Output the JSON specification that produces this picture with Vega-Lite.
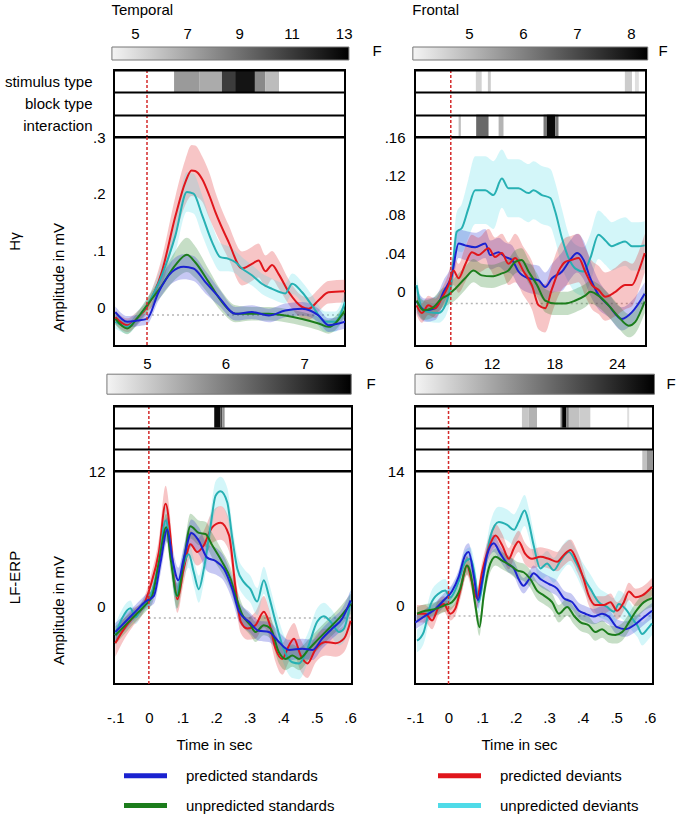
{
"$schema": "https://vega.github.io/schema/vega-lite/v6.json",
"padding": {"left": 3, "top": 3, "right": 0, "bottom": 0},
"background": "white",
"columns": 2,
"bounds": "flush",
"spacing": {"row": 0, "column": 63},
"resolve": {"scale": {"color": "independent"}, "legend": {"color": "independent"}},
"config": {
  "font": "Liberation Sans",
  "view": {"stroke": "black", "strokeWidth": 2},
  "axis": {"labelFontSize": 15, "titleFontSize": 15, "titleFontWeight": "normal", "labelColor": "black", "titleColor": "black", "domain": false, "ticks": false, "grid": false},
  "title": {"fontSize": 15, "fontWeight": "normal", "color": "black"},
  "legend": {"orient": "bottom", "columns": 2, "symbolType": "M-1,-0.12H1V0.12H-1Z", "symbolSize": 1849, "labelFontSize": 15, "labelColor": "black", "labelOffset": 19, "columnPadding": 103, "rowPadding": -13, "offset": -9, "padding": 10, "symbolOpacity": 1, "symbolStrokeWidth": 0}
},
"concat": [
{
  "width": 231, "height": 23,
  "view": {"stroke": null},
  "title": {"text": "Temporal", "anchor": "start", "offset": 8},
  "data": {"values": [{"lo": 4.12, "hi": 13.2, "bar": "F"}]},
  "mark": {"type": "rect", "fill": {"gradient": "linear", "x1": 0, "y1": 0, "x2": 1, "y2": 0, "stops": [{"offset": 0, "color": "#f4f4f4"}, {"offset": 1, "color": "#000000"}]}, "stroke": "#777777", "strokeWidth": 1},
  "encoding": {
    "x": {"field": "lo", "type": "quantitative", "scale": {"domain": [4.2, 13.05], "nice": false, "zero": false}, "axis": {"orient": "top", "title": null, "values": [5, 7, 9, 11, 13], "labelPadding": 6, "labelFlush": false}},
    "x2": {"field": "hi"},
    "y": {"field": "bar", "type": "nominal", "scale": {"paddingInner": 0, "paddingOuter": 0.3846, "align": 0}, "axis": {"orient": "right", "labels": false, "title": "F", "titleAngle": 0, "titleAlign": "left", "titlePadding": 27, "titleBaseline": "bottom"}}
  }
},
{
  "width": 231, "height": 23,
  "view": {"stroke": null},
  "title": {"text": "Frontal", "anchor": "start", "offset": 8},
  "data": {"values": [{"lo": 3.96, "hi": 8.31, "bar": "F"}]},
  "mark": {"type": "rect", "fill": {"gradient": "linear", "x1": 0, "y1": 0, "x2": 1, "y2": 0, "stops": [{"offset": 0, "color": "#f4f4f4"}, {"offset": 1, "color": "#000000"}]}, "stroke": "#777777", "strokeWidth": 1},
  "encoding": {
    "x": {"field": "lo", "type": "quantitative", "scale": {"domain": [4.0, 8.278], "nice": false, "zero": false}, "axis": {"orient": "top", "title": null, "values": [5, 6, 7, 8], "labelPadding": 6, "labelFlush": false}},
    "x2": {"field": "hi"},
    "y": {"field": "bar", "type": "nominal", "scale": {"paddingInner": 0, "paddingOuter": 0.3846, "align": 0}, "axis": {"orient": "right", "labels": false, "title": "F", "titleAngle": 0, "titleAlign": "left", "titlePadding": 12, "titleBaseline": "bottom"}}
  }
},
{
  "width": 231, "height": 67,
  "layer": [
    {"data": {"values": [
      {"r": "stimulus type", "t0": 0.082, "t1": 0.158, "f": 7.2},
      {"r": "stimulus type", "t0": 0.158, "t1": 0.227, "f": 6.6},
      {"r": "stimulus type", "t0": 0.227, "t1": 0.267, "f": 10.8},
      {"r": "stimulus type", "t0": 0.267, "t1": 0.327, "f": 12.6},
      {"r": "stimulus type", "t0": 0.327, "t1": 0.358, "f": 7.8},
      {"r": "stimulus type", "t0": 0.358, "t1": 0.4, "f": 6.0}
    ]},
     "mark": {"type": "rect"},
     "encoding": {
       "x": {"field": "t0", "type": "quantitative", "scale": {"domain": [-0.1, 0.6], "nice": false, "zero": false}, "axis": null},
       "x2": {"field": "t1"},
       "y": {"field": "r", "type": "nominal", "scale": {"domain": ["stimulus type", "block type", "interaction"], "paddingInner": 0, "paddingOuter": 0}, "axis": {"title": null, "labelPadding": 22, "grid": true, "tickBand": "extent", "gridColor": "black", "gridWidth": 2, "gridOpacity": 1, "zindex": 1}},
       "color": {"field": "f", "type": "quantitative", "scale": {"domain": [4.12, 13.2], "range": ["#f4f4f4", "#000000"]}, "legend": null}
     }},
    {"data": {"values": [{"t": 0}]}, "mark": {"type": "rule", "color": "#d42a2a", "strokeDash": [3, 2], "strokeWidth": 1.5}, "encoding": {"x": {"field": "t", "type": "quantitative"}}}
  ]
},
{
  "width": 231, "height": 67,
  "layer": [
    {"data": {"values": [
      {"r": "stimulus type", "t0": 0.077, "t1": 0.095, "f": 4.5},
      {"r": "stimulus type", "t0": 0.114, "t1": 0.123, "f": 4.6},
      {"r": "stimulus type", "t0": 0.535, "t1": 0.557, "f": 4.6},
      {"r": "stimulus type", "t0": 0.566, "t1": 0.578, "f": 4.3},
      {"r": "interaction", "t0": 0.024, "t1": 0.031, "f": 4.8},
      {"r": "interaction", "t0": 0.078, "t1": 0.116, "f": 6.3},
      {"r": "interaction", "t0": 0.147, "t1": 0.162, "f": 5.0},
      {"r": "interaction", "t0": 0.285, "t1": 0.295, "f": 6.0},
      {"r": "interaction", "t0": 0.295, "t1": 0.321, "f": 8.2},
      {"r": "interaction", "t0": 0.321, "t1": 0.331, "f": 6.0}
    ]},
     "mark": {"type": "rect"},
     "encoding": {
       "x": {"field": "t0", "type": "quantitative", "scale": {"domain": [-0.11, 0.6], "nice": false, "zero": false}, "axis": null},
       "x2": {"field": "t1"},
       "y": {"field": "r", "type": "nominal", "scale": {"domain": ["stimulus type", "block type", "interaction"], "paddingInner": 0, "paddingOuter": 0}, "axis": {"title": null, "labels": false, "grid": true, "tickBand": "extent", "gridColor": "black", "gridWidth": 2, "gridOpacity": 1, "zindex": 1}},
       "color": {"field": "f", "type": "quantitative", "scale": {"domain": [3.96, 8.31], "range": ["#f4f4f4", "#000000"]}, "legend": null}
     }},
    {"data": {"values": [{"t": 0}]}, "mark": {"type": "rule", "color": "#d42a2a", "strokeDash": [3, 2], "strokeWidth": 1.5}, "encoding": {"x": {"field": "t", "type": "quantitative"}}}
  ]
},
{
  "width": 231, "height": 209,
  "title": {"text": "Hγ", "orient": "left", "offset": 28},
  "data": {"values": [
    {"c":"predicted deviants","t":-0.096,"m":-0.018,"l":-0.03,"h":-0.006},
    {"c":"predicted deviants","t":-0.06,"m":-0.032,"l":-0.044,"h":-0.02},
    {"c":"predicted deviants","t":-0.03,"m":-0.02,"l":-0.032,"h":-0.008},
    {"c":"predicted deviants","t":0,"m":0,"l":-0.012,"h":0.012},
    {"c":"predicted deviants","t":0.045,"m":0.062,"l":0.037,"h":0.087},
    {"c":"predicted deviants","t":0.086,"m":0.16,"l":0.125,"h":0.195},
    {"c":"predicted deviants","t":0.116,"m":0.22,"l":0.18,"h":0.26},
    {"c":"predicted deviants","t":0.135,"m":0.241,"l":0.196,"h":0.286},
    {"c":"predicted deviants","t":0.146,"m":0.24,"l":0.195,"h":0.285},
    {"c":"predicted deviants","t":0.167,"m":0.226,"l":0.186,"h":0.266},
    {"c":"predicted deviants","t":0.19,"m":0.195,"l":0.155,"h":0.235},
    {"c":"predicted deviants","t":0.207,"m":0.168,"l":0.133,"h":0.203},
    {"c":"predicted deviants","t":0.247,"m":0.115,"l":0.085,"h":0.145},
    {"c":"predicted deviants","t":0.288,"m":0.068,"l":0.038,"h":0.098},
    {"c":"predicted deviants","t":0.318,"m":0.076,"l":0.046,"h":0.106},
    {"c":"predicted deviants","t":0.338,"m":0.082,"l":0.052,"h":0.112},
    {"c":"predicted deviants","t":0.359,"m":0.063,"l":0.035,"h":0.091},
    {"c":"predicted deviants","t":0.379,"m":0.074,"l":0.049,"h":0.099},
    {"c":"predicted deviants","t":0.399,"m":0.058,"l":0.033,"h":0.083},
    {"c":"predicted deviants","t":0.43,"m":0.026,"l":0.004,"h":0.048},
    {"c":"predicted deviants","t":0.47,"m":0,"l":-0.02,"h":0.02},
    {"c":"predicted deviants","t":0.49,"m":-0.003,"l":-0.023,"h":0.017},
    {"c":"predicted deviants","t":0.52,"m":0.012,"l":-0.008,"h":0.032},
    {"c":"predicted deviants","t":0.55,"m":0.026,"l":0.006,"h":0.046},
    {"c":"predicted deviants","t":0.6,"m":0.028,"l":0.008,"h":0.048},
    {"c":"unpredicted deviants","t":-0.096,"m":-0.026,"l":-0.038,"h":-0.014},
    {"c":"unpredicted deviants","t":-0.06,"m":-0.035,"l":-0.047,"h":-0.023},
    {"c":"unpredicted deviants","t":-0.03,"m":-0.02,"l":-0.032,"h":-0.008},
    {"c":"unpredicted deviants","t":0,"m":0.003,"l":-0.009,"h":0.015},
    {"c":"unpredicted deviants","t":0.045,"m":0.056,"l":0.036,"h":0.076},
    {"c":"unpredicted deviants","t":0.086,"m":0.126,"l":0.096,"h":0.156},
    {"c":"unpredicted deviants","t":0.121,"m":0.203,"l":0.168,"h":0.238},
    {"c":"unpredicted deviants","t":0.141,"m":0.2,"l":0.165,"h":0.235},
    {"c":"unpredicted deviants","t":0.167,"m":0.162,"l":0.127,"h":0.197},
    {"c":"unpredicted deviants","t":0.197,"m":0.115,"l":0.085,"h":0.145},
    {"c":"unpredicted deviants","t":0.222,"m":0.088,"l":0.063,"h":0.113},
    {"c":"unpredicted deviants","t":0.247,"m":0.085,"l":0.063,"h":0.107},
    {"c":"unpredicted deviants","t":0.268,"m":0.079,"l":0.059,"h":0.099},
    {"c":"unpredicted deviants","t":0.288,"m":0.068,"l":0.048,"h":0.088},
    {"c":"unpredicted deviants","t":0.318,"m":0.056,"l":0.038,"h":0.074},
    {"c":"unpredicted deviants","t":0.348,"m":0.041,"l":0.023,"h":0.059},
    {"c":"unpredicted deviants","t":0.379,"m":0.032,"l":0.014,"h":0.05},
    {"c":"unpredicted deviants","t":0.419,"m":0.024,"l":0.006,"h":0.042},
    {"c":"unpredicted deviants","t":0.44,"m":0.041,"l":0.023,"h":0.059},
    {"c":"unpredicted deviants","t":0.47,"m":0.026,"l":0.008,"h":0.044},
    {"c":"unpredicted deviants","t":0.5,"m":0.003,"l":-0.015,"h":0.021},
    {"c":"unpredicted deviants","t":0.54,"m":-0.026,"l":-0.044,"h":-0.008},
    {"c":"unpredicted deviants","t":0.57,"m":-0.026,"l":-0.044,"h":-0.008},
    {"c":"unpredicted deviants","t":0.6,"m":0.009,"l":-0.009,"h":0.027},
    {"c":"unpredicted standards","t":-0.096,"m":-0.021,"l":-0.031,"h":-0.011},
    {"c":"unpredicted standards","t":-0.06,"m":-0.038,"l":-0.048,"h":-0.028},
    {"c":"unpredicted standards","t":-0.03,"m":-0.02,"l":-0.03,"h":-0.01},
    {"c":"unpredicted standards","t":0,"m":0.003,"l":-0.009,"h":0.015},
    {"c":"unpredicted standards","t":0.045,"m":0.038,"l":0.02,"h":0.056},
    {"c":"unpredicted standards","t":0.086,"m":0.074,"l":0.049,"h":0.099},
    {"c":"unpredicted standards","t":0.121,"m":0.092,"l":0.062,"h":0.122},
    {"c":"unpredicted standards","t":0.146,"m":0.079,"l":0.051,"h":0.107},
    {"c":"unpredicted standards","t":0.187,"m":0.044,"l":0.022,"h":0.066},
    {"c":"unpredicted standards","t":0.227,"m":0.009,"l":-0.009,"h":0.027},
    {"c":"unpredicted standards","t":0.268,"m":-0.012,"l":-0.027,"h":0.003},
    {"c":"unpredicted standards","t":0.318,"m":-0.012,"l":-0.024,"h":0},
    {"c":"unpredicted standards","t":0.369,"m":-0.012,"l":-0.024,"h":0},
    {"c":"unpredicted standards","t":0.419,"m":-0.015,"l":-0.027,"h":-0.003},
    {"c":"unpredicted standards","t":0.47,"m":-0.021,"l":-0.033,"h":-0.009},
    {"c":"unpredicted standards","t":0.52,"m":-0.029,"l":-0.041,"h":-0.017},
    {"c":"unpredicted standards","t":0.55,"m":-0.035,"l":-0.047,"h":-0.023},
    {"c":"unpredicted standards","t":0.6,"m":-0.006,"l":-0.018,"h":0.006},
    {"c":"predicted standards","t":-0.096,"m":-0.009,"l":-0.019,"h":0.001},
    {"c":"predicted standards","t":-0.06,"m":-0.026,"l":-0.036,"h":-0.016},
    {"c":"predicted standards","t":-0.03,"m":-0.024,"l":-0.034,"h":-0.014},
    {"c":"predicted standards","t":0,"m":-0.021,"l":-0.031,"h":-0.011},
    {"c":"predicted standards","t":0.035,"m":0.026,"l":0.011,"h":0.041},
    {"c":"predicted standards","t":0.076,"m":0.062,"l":0.042,"h":0.082},
    {"c":"predicted standards","t":0.111,"m":0.071,"l":0.049,"h":0.093},
    {"c":"predicted standards","t":0.141,"m":0.068,"l":0.046,"h":0.09},
    {"c":"predicted standards","t":0.177,"m":0.044,"l":0.024,"h":0.064},
    {"c":"predicted standards","t":0.217,"m":0.018,"l":0.003,"h":0.033},
    {"c":"predicted standards","t":0.268,"m":-0.012,"l":-0.024,"h":0},
    {"c":"predicted standards","t":0.318,"m":-0.009,"l":-0.021,"h":0.003},
    {"c":"predicted standards","t":0.369,"m":-0.015,"l":-0.027,"h":-0.003},
    {"c":"predicted standards","t":0.419,"m":-0.006,"l":-0.018,"h":0.006},
    {"c":"predicted standards","t":0.47,"m":-0.003,"l":-0.015,"h":0.009},
    {"c":"predicted standards","t":0.52,"m":-0.015,"l":-0.027,"h":-0.003},
    {"c":"predicted standards","t":0.55,"m":-0.032,"l":-0.044,"h":-0.02},
    {"c":"predicted standards","t":0.6,"m":-0.026,"l":-0.038,"h":-0.014}
  ]},
  "encoding": {"x": {"field": "t", "type": "quantitative", "scale": {"domain": [-0.1, 0.6], "nice": false, "zero": false}, "axis": null}},
  "layer": [
    {"data": {"values": [{"t": 0, "t2": 0.6, "b": -0.014}]}, "mark": {"type": "rule", "color": "#b5b5b5", "strokeDash": [2, 3], "strokeWidth": 1.5},
     "encoding": {"x2": {"field": "t2"}, "y": {"field": "b", "type": "quantitative", "scale": {"domain": [-0.0688, 0.3], "nice": false, "zero": false}, "axis": {"title": "Amplitude in mV", "values": [0, 0.1, 0.2, 0.3], "labelExpr": "datum.value == 0 ? '0' : replace(format(datum.value, '.2~f'), '0.', '.')", "labelPadding": 9, "titlePadding": 26, "titleY": 140}}}},
    {"mark": {"type": "area", "interpolate": "monotone", "opacity": 0.25, "clip": true},
     "encoding": {"y": {"field": "l", "type": "quantitative", "scale": {"domain": [-0.0688, 0.3], "nice": false, "zero": false}, "axis": {"title": "Amplitude in mV", "values": [0, 0.1, 0.2, 0.3], "labelExpr": "datum.value == 0 ? '0' : replace(format(datum.value, '.2~f'), '0.', '.')", "labelPadding": 9, "titlePadding": 26, "titleY": 140}}, "y2": {"field": "h"},
       "fill": {"field": "c", "type": "nominal", "scale": {"domain": ["predicted standards", "predicted deviants", "unpredicted standards", "unpredicted deviants"], "range": ["#1a22d0", "#e0161c", "#1c7d1c", "#4fdbe8"]}, "legend": {"title": null, "encode": {"symbols": {"update": {"opacity": {"value": 1}, "fillOpacity": {"value": 1}}}}}}}},
    {"mark": {"type": "line", "interpolate": "monotone", "strokeWidth": 2, "clip": true},
     "encoding": {"y": {"field": "m", "type": "quantitative", "scale": {"domain": [-0.0688, 0.3], "nice": false, "zero": false}, "axis": {"title": "Amplitude in mV", "values": [0, 0.1, 0.2, 0.3], "labelExpr": "datum.value == 0 ? '0' : replace(format(datum.value, '.2~f'), '0.', '.')", "labelPadding": 9, "titlePadding": 26, "titleY": 140}},
       "stroke": {"field": "c", "type": "nominal", "scale": {"domain": ["predicted standards", "predicted deviants", "unpredicted standards", "unpredicted deviants"], "range": ["#1a22d0", "#e0161c", "#1c7d1c", "#27b0b3"]}, "legend": null}}},
    {"data": {"values": [{"t": 0}]}, "mark": {"type": "rule", "color": "#d42a2a", "strokeDash": [3, 2], "strokeWidth": 1.5}, "encoding": {}}
  ]
},
{
  "width": 231, "height": 209,
  "data": {"values": [
    {"c":"unpredicted deviants","t":-0.105,"m":0.007,"l":-0.003,"h":0.017},
    {"c":"unpredicted deviants","t":-0.089,"m":-0.017,"l":-0.027,"h":-0.007},
    {"c":"unpredicted deviants","t":-0.069,"m":-0.021,"l":-0.031,"h":-0.011},
    {"c":"unpredicted deviants","t":-0.038,"m":-0.022,"l":-0.032,"h":-0.012},
    {"c":"unpredicted deviants","t":-0.017,"m":-0.014,"l":-0.026,"h":-0.002},
    {"c":"unpredicted deviants","t":0.003,"m":0.014,"l":-0.001,"h":0.029},
    {"c":"unpredicted deviants","t":0.018,"m":0.062,"l":0.042,"h":0.082},
    {"c":"unpredicted deviants","t":0.034,"m":0.066,"l":0.041,"h":0.091},
    {"c":"unpredicted deviants","t":0.054,"m":0.086,"l":0.056,"h":0.116},
    {"c":"unpredicted deviants","t":0.075,"m":0.105,"l":0.07,"h":0.14},
    {"c":"unpredicted deviants","t":0.106,"m":0.105,"l":0.07,"h":0.14},
    {"c":"unpredicted deviants","t":0.131,"m":0.1,"l":0.065,"h":0.135},
    {"c":"unpredicted deviants","t":0.157,"m":0.117,"l":0.087,"h":0.147},
    {"c":"unpredicted deviants","t":0.177,"m":0.107,"l":0.077,"h":0.137},
    {"c":"unpredicted deviants","t":0.208,"m":0.107,"l":0.077,"h":0.137},
    {"c":"unpredicted deviants","t":0.239,"m":0.102,"l":0.072,"h":0.132},
    {"c":"unpredicted deviants","t":0.254,"m":0.105,"l":0.075,"h":0.135},
    {"c":"unpredicted deviants","t":0.28,"m":0.1,"l":0.07,"h":0.13},
    {"c":"unpredicted deviants","t":0.306,"m":0.097,"l":0.067,"h":0.127},
    {"c":"unpredicted deviants","t":0.321,"m":0.083,"l":0.053,"h":0.113},
    {"c":"unpredicted deviants","t":0.342,"m":0.055,"l":0.025,"h":0.085},
    {"c":"unpredicted deviants","t":0.362,"m":0.035,"l":0.01,"h":0.06},
    {"c":"unpredicted deviants","t":0.383,"m":0.024,"l":-0.001,"h":0.049},
    {"c":"unpredicted deviants","t":0.408,"m":0.021,"l":-0.004,"h":0.046},
    {"c":"unpredicted deviants","t":0.429,"m":0.035,"l":0.01,"h":0.06},
    {"c":"unpredicted deviants","t":0.454,"m":0.059,"l":0.034,"h":0.084},
    {"c":"unpredicted deviants","t":0.475,"m":0.053,"l":0.028,"h":0.078},
    {"c":"unpredicted deviants","t":0.495,"m":0.047,"l":0.022,"h":0.072},
    {"c":"unpredicted deviants","t":0.516,"m":0.05,"l":0.025,"h":0.075},
    {"c":"unpredicted deviants","t":0.536,"m":0.052,"l":0.027,"h":0.077},
    {"c":"unpredicted deviants","t":0.557,"m":0.047,"l":0.022,"h":0.072},
    {"c":"unpredicted deviants","t":0.577,"m":0.047,"l":0.022,"h":0.072},
    {"c":"unpredicted deviants","t":0.596,"m":0.048,"l":0.023,"h":0.073},
    {"c":"predicted standards","t":-0.105,"m":-0.01,"l":-0.022,"h":0.002},
    {"c":"predicted standards","t":-0.079,"m":-0.019,"l":-0.031,"h":-0.007},
    {"c":"predicted standards","t":-0.048,"m":-0.017,"l":-0.029,"h":-0.005},
    {"c":"predicted standards","t":-0.022,"m":0,"l":-0.012,"h":0.012},
    {"c":"predicted standards","t":0.003,"m":0.017,"l":0.005,"h":0.029},
    {"c":"predicted standards","t":0.024,"m":0.05,"l":0.035,"h":0.065},
    {"c":"predicted standards","t":0.044,"m":0.048,"l":0.033,"h":0.063},
    {"c":"predicted standards","t":0.075,"m":0.046,"l":0.031,"h":0.061},
    {"c":"predicted standards","t":0.106,"m":0.05,"l":0.035,"h":0.065},
    {"c":"predicted standards","t":0.121,"m":0.038,"l":0.023,"h":0.053},
    {"c":"predicted standards","t":0.147,"m":0.041,"l":0.026,"h":0.056},
    {"c":"predicted standards","t":0.167,"m":0.036,"l":0.021,"h":0.051},
    {"c":"predicted standards","t":0.188,"m":0.033,"l":0.018,"h":0.048},
    {"c":"predicted standards","t":0.208,"m":0.021,"l":0.006,"h":0.036},
    {"c":"predicted standards","t":0.239,"m":0.014,"l":-0.001,"h":0.029},
    {"c":"predicted standards","t":0.27,"m":0.012,"l":-0.003,"h":0.027},
    {"c":"predicted standards","t":0.29,"m":0.005,"l":-0.01,"h":0.02},
    {"c":"predicted standards","t":0.311,"m":0.014,"l":-0.001,"h":0.029},
    {"c":"predicted standards","t":0.342,"m":0.021,"l":0.001,"h":0.041},
    {"c":"predicted standards","t":0.367,"m":0.033,"l":0.013,"h":0.053},
    {"c":"predicted standards","t":0.388,"m":0.04,"l":0.02,"h":0.06},
    {"c":"predicted standards","t":0.408,"m":0.033,"l":0.013,"h":0.053},
    {"c":"predicted standards","t":0.429,"m":0.014,"l":-0.004,"h":0.032},
    {"c":"predicted standards","t":0.454,"m":-0.003,"l":-0.018,"h":0.012},
    {"c":"predicted standards","t":0.485,"m":-0.014,"l":-0.026,"h":-0.002},
    {"c":"predicted standards","t":0.526,"m":-0.028,"l":-0.04,"h":-0.016},
    {"c":"predicted standards","t":0.557,"m":-0.021,"l":-0.033,"h":-0.009},
    {"c":"predicted standards","t":0.596,"m":-0.002,"l":-0.014,"h":0.01},
    {"c":"predicted deviants","t":-0.105,"m":-0.014,"l":-0.024,"h":-0.004},
    {"c":"predicted deviants","t":-0.089,"m":-0.022,"l":-0.032,"h":-0.012},
    {"c":"predicted deviants","t":-0.069,"m":-0.014,"l":-0.024,"h":-0.004},
    {"c":"predicted deviants","t":-0.048,"m":-0.017,"l":-0.027,"h":-0.007},
    {"c":"predicted deviants","t":-0.028,"m":-0.007,"l":-0.017,"h":0.003},
    {"c":"predicted deviants","t":-0.007,"m":0.007,"l":-0.005,"h":0.019},
    {"c":"predicted deviants","t":0.008,"m":0.022,"l":0.007,"h":0.037},
    {"c":"predicted deviants","t":0.024,"m":0.014,"l":-0.001,"h":0.029},
    {"c":"predicted deviants","t":0.044,"m":0.028,"l":0.01,"h":0.046},
    {"c":"predicted deviants","t":0.065,"m":0.041,"l":0.023,"h":0.059},
    {"c":"predicted deviants","t":0.085,"m":0.038,"l":0.02,"h":0.056},
    {"c":"predicted deviants","t":0.116,"m":0.045,"l":0.025,"h":0.065},
    {"c":"predicted deviants","t":0.136,"m":0.036,"l":0.016,"h":0.056},
    {"c":"predicted deviants","t":0.157,"m":0.04,"l":0.02,"h":0.06},
    {"c":"predicted deviants","t":0.177,"m":0.029,"l":0.007,"h":0.051},
    {"c":"predicted deviants","t":0.198,"m":0.035,"l":0.01,"h":0.06},
    {"c":"predicted deviants","t":0.224,"m":0.021,"l":-0.004,"h":0.046},
    {"c":"predicted deviants","t":0.249,"m":0.007,"l":-0.018,"h":0.032},
    {"c":"predicted deviants","t":0.27,"m":-0.014,"l":-0.039,"h":0.011},
    {"c":"predicted deviants","t":0.29,"m":-0.017,"l":-0.042,"h":0.008},
    {"c":"predicted deviants","t":0.311,"m":0.003,"l":-0.022,"h":0.028},
    {"c":"predicted deviants","t":0.331,"m":0.021,"l":-0.004,"h":0.046},
    {"c":"predicted deviants","t":0.352,"m":0.031,"l":0.006,"h":0.056},
    {"c":"predicted deviants","t":0.372,"m":0.033,"l":0.008,"h":0.058},
    {"c":"predicted deviants","t":0.393,"m":0.035,"l":0.01,"h":0.06},
    {"c":"predicted deviants","t":0.413,"m":0.021,"l":-0.004,"h":0.046},
    {"c":"predicted deviants","t":0.434,"m":0.007,"l":-0.018,"h":0.032},
    {"c":"predicted deviants","t":0.454,"m":0.002,"l":-0.023,"h":0.027},
    {"c":"predicted deviants","t":0.475,"m":-0.005,"l":-0.03,"h":0.02},
    {"c":"predicted deviants","t":0.506,"m":0,"l":-0.025,"h":0.025},
    {"c":"predicted deviants","t":0.536,"m":0.007,"l":-0.018,"h":0.032},
    {"c":"predicted deviants","t":0.557,"m":0.007,"l":-0.015,"h":0.029},
    {"c":"predicted deviants","t":0.577,"m":0.021,"l":0.001,"h":0.041},
    {"c":"predicted deviants","t":0.596,"m":0.04,"l":0.02,"h":0.06},
    {"c":"unpredicted standards","t":-0.105,"m":-0.009,"l":-0.019,"h":0.001},
    {"c":"unpredicted standards","t":-0.084,"m":-0.019,"l":-0.029,"h":-0.009},
    {"c":"unpredicted standards","t":-0.058,"m":-0.017,"l":-0.027,"h":-0.007},
    {"c":"unpredicted standards","t":-0.028,"m":-0.007,"l":-0.017,"h":0.003},
    {"c":"unpredicted standards","t":-0.007,"m":-0.003,"l":-0.013,"h":0.007},
    {"c":"unpredicted standards","t":0.013,"m":0.003,"l":-0.009,"h":0.015},
    {"c":"unpredicted standards","t":0.044,"m":0.014,"l":0.002,"h":0.026},
    {"c":"unpredicted standards","t":0.07,"m":0.022,"l":0.01,"h":0.034},
    {"c":"unpredicted standards","t":0.095,"m":0.017,"l":0.005,"h":0.029},
    {"c":"unpredicted standards","t":0.126,"m":0.016,"l":0.004,"h":0.028},
    {"c":"unpredicted standards","t":0.157,"m":0.019,"l":0.007,"h":0.031},
    {"c":"unpredicted standards","t":0.177,"m":0.022,"l":0.01,"h":0.034},
    {"c":"unpredicted standards","t":0.198,"m":0.031,"l":0.019,"h":0.043},
    {"c":"unpredicted standards","t":0.218,"m":0.033,"l":0.021,"h":0.045},
    {"c":"unpredicted standards","t":0.239,"m":0.021,"l":0.009,"h":0.033},
    {"c":"unpredicted standards","t":0.265,"m":0.007,"l":-0.005,"h":0.019},
    {"c":"unpredicted standards","t":0.29,"m":-0.009,"l":-0.021,"h":0.003},
    {"c":"unpredicted standards","t":0.321,"m":-0.012,"l":-0.024,"h":0},
    {"c":"unpredicted standards","t":0.352,"m":-0.012,"l":-0.024,"h":0},
    {"c":"unpredicted standards","t":0.383,"m":-0.009,"l":-0.021,"h":0.003},
    {"c":"unpredicted standards","t":0.413,"m":-0.004,"l":-0.016,"h":0.008},
    {"c":"unpredicted standards","t":0.429,"m":0,"l":-0.012,"h":0.012},
    {"c":"unpredicted standards","t":0.454,"m":-0.004,"l":-0.016,"h":0.008},
    {"c":"unpredicted standards","t":0.485,"m":-0.014,"l":-0.026,"h":-0.002},
    {"c":"unpredicted standards","t":0.516,"m":-0.026,"l":-0.038,"h":-0.014},
    {"c":"unpredicted standards","t":0.547,"m":-0.035,"l":-0.047,"h":-0.023},
    {"c":"unpredicted standards","t":0.567,"m":-0.031,"l":-0.043,"h":-0.019},
    {"c":"unpredicted standards","t":0.596,"m":-0.01,"l":-0.022,"h":0.002}
  ]},
  "encoding": {"x": {"field": "t", "type": "quantitative", "scale": {"domain": [-0.11, 0.6], "nice": false, "zero": false}, "axis": null}},
  "layer": [
    {"data": {"values": [{"t": 0, "t2": 0.6, "b": -0.012}]}, "mark": {"type": "rule", "color": "#b5b5b5", "strokeDash": [2, 3], "strokeWidth": 1.5},
     "encoding": {"x2": {"field": "t2"}, "y": {"field": "b", "type": "quantitative", "scale": {"domain": [-0.056, 0.16], "nice": false, "zero": false}, "axis": {"title": null, "values": [0, 0.04, 0.08, 0.12, 0.16], "labelExpr": "datum.value == 0 ? '0' : replace(format(datum.value, '.2~f'), '0.', '.')", "labelPadding": 10}}}},
    {"mark": {"type": "area", "interpolate": "monotone", "opacity": 0.25, "clip": true},
     "encoding": {"y": {"field": "l", "type": "quantitative", "scale": {"domain": [-0.056, 0.16], "nice": false, "zero": false}, "axis": {"title": null, "values": [0, 0.04, 0.08, 0.12, 0.16], "labelExpr": "datum.value == 0 ? '0' : replace(format(datum.value, '.2~f'), '0.', '.')", "labelPadding": 10}}, "y2": {"field": "h"},
       "fill": {"field": "c", "type": "nominal", "scale": {"domain": ["predicted standards", "predicted deviants", "unpredicted standards", "unpredicted deviants"], "range": ["#1a22d0", "#e0161c", "#1c7d1c", "#4fdbe8"]}, "legend": {"title": null, "encode": {"symbols": {"update": {"opacity": {"value": 1}, "fillOpacity": {"value": 1}}}}}}}},
    {"mark": {"type": "line", "interpolate": "monotone", "strokeWidth": 2, "clip": true},
     "encoding": {"y": {"field": "m", "type": "quantitative", "scale": {"domain": [-0.056, 0.16], "nice": false, "zero": false}, "axis": {"title": null, "values": [0, 0.04, 0.08, 0.12, 0.16], "labelExpr": "datum.value == 0 ? '0' : replace(format(datum.value, '.2~f'), '0.', '.')", "labelPadding": 10}},
       "stroke": {"field": "c", "type": "nominal", "scale": {"domain": ["predicted standards", "predicted deviants", "unpredicted standards", "unpredicted deviants"], "range": ["#1a22d0", "#e0161c", "#1c7d1c", "#27b0b3"]}, "legend": null}}},
    {"data": {"values": [{"t": 0}]}, "mark": {"type": "rule", "color": "#d42a2a", "strokeDash": [3, 2], "strokeWidth": 1.5}, "encoding": {}}
  ]
},
{
  "width": 238, "height": 60,
  "view": {"stroke": null},
  "data": {"values": [{"lo": 4.49, "hi": 7.6, "bar": "F"}]},
  "mark": {"type": "rect", "fill": {"gradient": "linear", "x1": 0, "y1": 0, "x2": 1, "y2": 0, "stops": [{"offset": 0, "color": "#f4f4f4"}, {"offset": 1, "color": "#000000"}]}, "stroke": "#777777", "strokeWidth": 1},
  "encoding": {
    "x": {"field": "lo", "type": "quantitative", "scale": {"domain": [4.58, 7.61], "nice": false, "zero": false}, "axis": {"orient": "top", "title": null, "values": [5, 6, 7], "labelPadding": 6, "offset": -31, "labelFlush": false}},
    "x2": {"field": "hi"},
    "y": {"field": "bar", "type": "nominal", "scale": {"paddingInner": 0, "paddingOuter": 1.375, "align": 0.7045}, "axis": {"orient": "right", "labels": false, "title": "F", "titleAngle": 0, "titleAlign": "left", "titlePadding": 14, "titleBaseline": "top"}}
  }
},
{
  "width": 238, "height": 60,
  "view": {"stroke": null},
  "data": {"values": [{"lo": 4.66, "hi": 27.6, "bar": "F"}]},
  "mark": {"type": "rect", "fill": {"gradient": "linear", "x1": 0, "y1": 0, "x2": 1, "y2": 0, "stops": [{"offset": 0, "color": "#f4f4f4"}, {"offset": 1, "color": "#000000"}]}, "stroke": "#777777", "strokeWidth": 1},
  "encoding": {
    "x": {"field": "lo", "type": "quantitative", "scale": {"domain": [4.66, 27.46], "nice": false, "zero": false}, "axis": {"orient": "top", "title": null, "values": [6, 12, 18, 24], "labelPadding": 6, "offset": -31, "labelFlush": false}},
    "x2": {"field": "hi"},
    "y": {"field": "bar", "type": "nominal", "scale": {"paddingInner": 0, "paddingOuter": 1.375, "align": 0.7045}, "axis": {"orient": "right", "labels": false, "title": "F", "titleAngle": 0, "titleAlign": "left", "titlePadding": 13, "titleBaseline": "top"}}
  }
},
{
  "width": 238, "height": 65,
  "layer": [
    {"data": {"values": [
      {"r": "stimulus type", "t0": 0.195, "t1": 0.213, "f": 7.5},
      {"r": "stimulus type", "t0": 0.213, "t1": 0.219, "f": 6.6},
      {"r": "stimulus type", "t0": 0.219, "t1": 0.226, "f": 5.6}
    ]},
     "mark": {"type": "rect"},
     "encoding": {
       "x": {"field": "t0", "type": "quantitative", "scale": {"domain": [-0.104, 0.606], "nice": false, "zero": false}, "axis": null},
       "x2": {"field": "t1"},
       "y": {"field": "r", "type": "nominal", "scale": {"domain": ["stimulus type", "block type", "interaction"], "paddingInner": 0, "paddingOuter": 0}, "axis": {"title": null, "labels": false, "grid": true, "tickBand": "extent", "gridColor": "black", "gridWidth": 2, "gridOpacity": 1, "zindex": 1}},
       "color": {"field": "f", "type": "quantitative", "scale": {"domain": [4.49, 7.6], "range": ["#f4f4f4", "#000000"]}, "legend": null}
     }},
    {"data": {"values": [{"t": 0}]}, "mark": {"type": "rule", "color": "#d42a2a", "strokeDash": [3, 2], "strokeWidth": 1.5}, "encoding": {"x": {"field": "t", "type": "quantitative"}}}
  ]
},
{
  "width": 238, "height": 65,
  "layer": [
    {"data": {"values": [
      {"r": "stimulus type", "t0": 0.219, "t1": 0.239, "f": 8.5},
      {"r": "stimulus type", "t0": 0.239, "t1": 0.264, "f": 10.3},
      {"r": "stimulus type", "t0": 0.334, "t1": 0.339, "f": 14.8},
      {"r": "stimulus type", "t0": 0.339, "t1": 0.351, "f": 27.5},
      {"r": "stimulus type", "t0": 0.351, "t1": 0.359, "f": 15},
      {"r": "stimulus type", "t0": 0.359, "t1": 0.39, "f": 9},
      {"r": "stimulus type", "t0": 0.39, "t1": 0.423, "f": 8},
      {"r": "stimulus type", "t0": 0.533, "t1": 0.539, "f": 6.5},
      {"r": "interaction", "t0": 0.578, "t1": 0.592, "f": 9},
      {"r": "interaction", "t0": 0.592, "t1": 0.61, "f": 13}
    ]},
     "mark": {"type": "rect"},
     "encoding": {
       "x": {"field": "t0", "type": "quantitative", "scale": {"domain": [-0.1, 0.61], "nice": false, "zero": false}, "axis": null},
       "x2": {"field": "t1"},
       "y": {"field": "r", "type": "nominal", "scale": {"domain": ["stimulus type", "block type", "interaction"], "paddingInner": 0, "paddingOuter": 0}, "axis": {"title": null, "labels": false, "grid": true, "tickBand": "extent", "gridColor": "black", "gridWidth": 2, "gridOpacity": 1, "zindex": 1}},
       "color": {"field": "f", "type": "quantitative", "scale": {"domain": [4.66, 27.6], "range": ["#f4f4f4", "#000000"]}, "legend": null}
     }},
    {"data": {"values": [{"t": 0}]}, "mark": {"type": "rule", "color": "#d42a2a", "strokeDash": [3, 2], "strokeWidth": 1.5}, "encoding": {"x": {"field": "t", "type": "quantitative"}}}
  ]
},
{
  "width": 238, "height": 213,
  "title": {"text": "LF-ERP", "orient": "left", "offset": 28},
  "data": {"values": [
    {"c":"predicted deviants","t":-0.1,"m":-3.3,"l":-4.5,"h":-2.1},
    {"c":"predicted deviants","t":-0.08,"m":-2.3,"l":-3.3,"h":-1.3},
    {"c":"predicted deviants","t":-0.05,"m":-1.1,"l":-1.9,"h":-0.3},
    {"c":"predicted deviants","t":-0.02,"m":-0.2,"l":-0.8,"h":0.4},
    {"c":"predicted deviants","t":0.005,"m":1.8,"l":1,"h":2.6},
    {"c":"predicted deviants","t":0.03,"m":4.8,"l":3.6,"h":6},
    {"c":"predicted deviants","t":0.05,"m":9.1,"l":7.5,"h":10.7},
    {"c":"predicted deviants","t":0.065,"m":6,"l":4.6,"h":7.4},
    {"c":"predicted deviants","t":0.075,"m":2.4,"l":1.2,"h":3.6},
    {"c":"predicted deviants","t":0.085,"m":0.6,"l":-0.6,"h":1.8},
    {"c":"predicted deviants","t":0.104,"m":3.3,"l":2.1,"h":4.5},
    {"c":"predicted deviants","t":0.124,"m":5.5,"l":4.3,"h":6.7},
    {"c":"predicted deviants","t":0.144,"m":4.8,"l":3.6,"h":6},
    {"c":"predicted deviants","t":0.164,"m":5.4,"l":4.1,"h":6.7},
    {"c":"predicted deviants","t":0.189,"m":7,"l":5.6,"h":8.4},
    {"c":"predicted deviants","t":0.214,"m":7.4,"l":5.9,"h":8.9},
    {"c":"predicted deviants","t":0.239,"m":6.3,"l":4.9,"h":7.7},
    {"c":"predicted deviants","t":0.259,"m":1.5,"l":0.3,"h":2.7},
    {"c":"predicted deviants","t":0.274,"m":-1.4,"l":-2.4,"h":-0.4},
    {"c":"predicted deviants","t":0.294,"m":-2,"l":-3,"h":-1},
    {"c":"predicted deviants","t":0.318,"m":-1.7,"l":-2.9,"h":-0.5},
    {"c":"predicted deviants","t":0.343,"m":-0.5,"l":-1.9,"h":0.9},
    {"c":"predicted deviants","t":0.358,"m":-1.4,"l":-2.6,"h":-0.2},
    {"c":"predicted deviants","t":0.378,"m":-3.8,"l":-5,"h":-2.6},
    {"c":"predicted deviants","t":0.398,"m":-4.7,"l":-6.1,"h":-3.3},
    {"c":"predicted deviants","t":0.418,"m":-3.5,"l":-4.9,"h":-2.1},
    {"c":"predicted deviants","t":0.433,"m":-2.9,"l":-4.3,"h":-1.5},
    {"c":"predicted deviants","t":0.453,"m":-4.4,"l":-5.8,"h":-3},
    {"c":"predicted deviants","t":0.473,"m":-5.1,"l":-6.4,"h":-3.8},
    {"c":"predicted deviants","t":0.498,"m":-3.8,"l":-5,"h":-2.6},
    {"c":"predicted deviants","t":0.527,"m":-3.2,"l":-4.4,"h":-2},
    {"c":"predicted deviants","t":0.557,"m":-3.3,"l":-4.5,"h":-2.1},
    {"c":"predicted deviants","t":0.582,"m":-2.9,"l":-4.1,"h":-1.7},
    {"c":"predicted deviants","t":0.602,"m":-1.3,"l":-2.5,"h":-0.1},
    {"c":"unpredicted deviants","t":-0.1,"m":-2.6,"l":-3.6,"h":-1.6},
    {"c":"unpredicted deviants","t":-0.08,"m":-1.1,"l":-1.9,"h":-0.3},
    {"c":"unpredicted deviants","t":-0.055,"m":-0.2,"l":-0.9,"h":0.5},
    {"c":"unpredicted deviants","t":-0.04,"m":-1,"l":-1.6,"h":-0.4},
    {"c":"unpredicted deviants","t":-0.02,"m":-0.1,"l":-0.7,"h":0.5},
    {"c":"unpredicted deviants","t":0.005,"m":0.9,"l":0.2,"h":1.6},
    {"c":"unpredicted deviants","t":0.03,"m":3.9,"l":2.9,"h":4.9},
    {"c":"unpredicted deviants","t":0.05,"m":7.6,"l":6.4,"h":8.8},
    {"c":"unpredicted deviants","t":0.065,"m":5.1,"l":3.9,"h":6.3},
    {"c":"unpredicted deviants","t":0.082,"m":0.9,"l":-0.3,"h":2.1},
    {"c":"unpredicted deviants","t":0.1,"m":3.3,"l":2.1,"h":4.5},
    {"c":"unpredicted deviants","t":0.119,"m":4.6,"l":3.4,"h":5.8},
    {"c":"unpredicted deviants","t":0.134,"m":3,"l":1.8,"h":4.2},
    {"c":"unpredicted deviants","t":0.149,"m":1.5,"l":0.3,"h":2.7},
    {"c":"unpredicted deviants","t":0.164,"m":3.3,"l":2.1,"h":4.5},
    {"c":"unpredicted deviants","t":0.184,"m":7.1,"l":5.8,"h":8.4},
    {"c":"unpredicted deviants","t":0.199,"m":9.8,"l":8.5,"h":11.1},
    {"c":"unpredicted deviants","t":0.214,"m":10.2,"l":8.9,"h":11.5},
    {"c":"unpredicted deviants","t":0.234,"m":9.2,"l":7.9,"h":10.5},
    {"c":"unpredicted deviants","t":0.249,"m":6,"l":4.8,"h":7.2},
    {"c":"unpredicted deviants","t":0.264,"m":3.3,"l":2.1,"h":4.5},
    {"c":"unpredicted deviants","t":0.284,"m":2.1,"l":0.9,"h":3.3},
    {"c":"unpredicted deviants","t":0.303,"m":1.5,"l":0.3,"h":2.7},
    {"c":"unpredicted deviants","t":0.323,"m":0.4,"l":-0.8,"h":1.6},
    {"c":"unpredicted deviants","t":0.343,"m":2.3,"l":1.1,"h":3.5},
    {"c":"unpredicted deviants","t":0.358,"m":0.9,"l":-0.3,"h":2.1},
    {"c":"unpredicted deviants","t":0.378,"m":-1.4,"l":-2.6,"h":-0.2},
    {"c":"unpredicted deviants","t":0.403,"m":-3.9,"l":-5.2,"h":-2.6},
    {"c":"unpredicted deviants","t":0.428,"m":-5,"l":-6.4,"h":-3.6},
    {"c":"unpredicted deviants","t":0.448,"m":-5.1,"l":-6.5,"h":-3.7},
    {"c":"unpredicted deviants","t":0.473,"m":-3.8,"l":-5.1,"h":-2.5},
    {"c":"unpredicted deviants","t":0.502,"m":-1.4,"l":-2.6,"h":-0.2},
    {"c":"unpredicted deviants","t":0.522,"m":-0.9,"l":-2.1,"h":0.3},
    {"c":"unpredicted deviants","t":0.542,"m":-1.4,"l":-2.6,"h":-0.2},
    {"c":"unpredicted deviants","t":0.567,"m":-2.3,"l":-3.5,"h":-1.1},
    {"c":"unpredicted deviants","t":0.582,"m":-2,"l":-3.2,"h":-0.8},
    {"c":"unpredicted deviants","t":0.602,"m":0.4,"l":-0.8,"h":1.6},
    {"c":"unpredicted standards","t":-0.1,"m":-2.6,"l":-3.4,"h":-1.8},
    {"c":"unpredicted standards","t":-0.07,"m":-1.7,"l":-2.4,"h":-1},
    {"c":"unpredicted standards","t":-0.04,"m":-0.8,"l":-1.4,"h":-0.2},
    {"c":"unpredicted standards","t":-0.01,"m":0.1,"l":-0.5,"h":0.7},
    {"c":"unpredicted standards","t":0.01,"m":0.9,"l":0.2,"h":1.6},
    {"c":"unpredicted standards","t":0.03,"m":3.9,"l":2.9,"h":4.9},
    {"c":"unpredicted standards","t":0.052,"m":7,"l":5.8,"h":8.2},
    {"c":"unpredicted standards","t":0.065,"m":4.2,"l":3,"h":5.4},
    {"c":"unpredicted standards","t":0.085,"m":0.9,"l":-0.2,"h":2},
    {"c":"unpredicted standards","t":0.104,"m":3.9,"l":2.8,"h":5},
    {"c":"unpredicted standards","t":0.124,"m":7.1,"l":6,"h":8.2},
    {"c":"unpredicted standards","t":0.149,"m":6.5,"l":5.4,"h":7.6},
    {"c":"unpredicted standards","t":0.169,"m":6.4,"l":5.3,"h":7.5},
    {"c":"unpredicted standards","t":0.189,"m":5.4,"l":4.3,"h":6.5},
    {"c":"unpredicted standards","t":0.219,"m":3.9,"l":2.9,"h":4.9},
    {"c":"unpredicted standards","t":0.244,"m":2.4,"l":1.4,"h":3.4},
    {"c":"unpredicted standards","t":0.259,"m":0.9,"l":-0.1,"h":1.9},
    {"c":"unpredicted standards","t":0.279,"m":-0.8,"l":-1.7,"h":0.1},
    {"c":"unpredicted standards","t":0.303,"m":-1.7,"l":-2.6,"h":-0.8},
    {"c":"unpredicted standards","t":0.318,"m":-2.3,"l":-3.2,"h":-1.4},
    {"c":"unpredicted standards","t":0.343,"m":-1.7,"l":-2.6,"h":-0.8},
    {"c":"unpredicted standards","t":0.363,"m":-2,"l":-2.9,"h":-1.1},
    {"c":"unpredicted standards","t":0.388,"m":-4.1,"l":-5.1,"h":-3.1},
    {"c":"unpredicted standards","t":0.408,"m":-4.7,"l":-5.7,"h":-3.7},
    {"c":"unpredicted standards","t":0.428,"m":-4.4,"l":-5.4,"h":-3.4},
    {"c":"unpredicted standards","t":0.448,"m":-4.7,"l":-5.7,"h":-3.7},
    {"c":"unpredicted standards","t":0.478,"m":-3.8,"l":-4.7,"h":-2.9},
    {"c":"unpredicted standards","t":0.507,"m":-2.9,"l":-3.8,"h":-2},
    {"c":"unpredicted standards","t":0.537,"m":-2,"l":-2.9,"h":-1.1},
    {"c":"unpredicted standards","t":0.567,"m":-1.1,"l":-2,"h":-0.2},
    {"c":"unpredicted standards","t":0.602,"m":0.2,"l":-0.7,"h":1.1},
    {"c":"predicted standards","t":-0.1,"m":-2.3,"l":-3.1,"h":-1.5},
    {"c":"predicted standards","t":-0.07,"m":-1.4,"l":-2.1,"h":-0.7},
    {"c":"predicted standards","t":-0.04,"m":-0.5,"l":-1.1,"h":0.1},
    {"c":"predicted standards","t":-0.01,"m":0.4,"l":-0.2,"h":1},
    {"c":"predicted standards","t":0.015,"m":0.9,"l":0.2,"h":1.6},
    {"c":"predicted standards","t":0.035,"m":3.9,"l":2.9,"h":4.9},
    {"c":"predicted standards","t":0.055,"m":6.8,"l":5.7,"h":7.9},
    {"c":"predicted standards","t":0.07,"m":4.2,"l":3.1,"h":5.3},
    {"c":"predicted standards","t":0.088,"m":2.3,"l":1.2,"h":3.4},
    {"c":"predicted standards","t":0.104,"m":4.2,"l":3.1,"h":5.3},
    {"c":"predicted standards","t":0.127,"m":6.5,"l":5.3,"h":7.7},
    {"c":"predicted standards","t":0.149,"m":5.8,"l":4.6,"h":7},
    {"c":"predicted standards","t":0.174,"m":4.3,"l":3.1,"h":5.5},
    {"c":"predicted standards","t":0.199,"m":4,"l":2.8,"h":5.2},
    {"c":"predicted standards","t":0.224,"m":3.3,"l":2.2,"h":4.4},
    {"c":"predicted standards","t":0.249,"m":1.5,"l":0.5,"h":2.5},
    {"c":"predicted standards","t":0.269,"m":-0.5,"l":-1.4,"h":0.4},
    {"c":"predicted standards","t":0.299,"m":-1.4,"l":-2.3,"h":-0.5},
    {"c":"predicted standards","t":0.328,"m":-2.2,"l":-3.1,"h":-1.3},
    {"c":"predicted standards","t":0.358,"m":-2.3,"l":-3.2,"h":-1.4},
    {"c":"predicted standards","t":0.388,"m":-3.2,"l":-4.1,"h":-2.3},
    {"c":"predicted standards","t":0.418,"m":-3.9,"l":-4.8,"h":-3},
    {"c":"predicted standards","t":0.458,"m":-3.8,"l":-4.7,"h":-2.9},
    {"c":"predicted standards","t":0.488,"m":-3.9,"l":-4.8,"h":-3},
    {"c":"predicted standards","t":0.517,"m":-2.9,"l":-3.8,"h":-2},
    {"c":"predicted standards","t":0.547,"m":-2,"l":-2.9,"h":-1.1},
    {"c":"predicted standards","t":0.577,"m":-1.1,"l":-2,"h":-0.2},
    {"c":"predicted standards","t":0.602,"m":0.5,"l":-0.4,"h":1.4}
  ]},
  "encoding": {"x": {"field": "t", "type": "quantitative", "scale": {"domain": [-0.104, 0.606], "nice": false, "zero": false}, "axis": {"title": "Time in sec", "values": [-0.1, 0, 0.1, 0.2, 0.3, 0.4, 0.5, 0.6], "labelExpr": "datum.value == 0 ? '0' : replace(replace(format(datum.value, '.2~f'), '0.', '.'), '\u2212', '-')", "labelPadding": 26, "titlePadding": 12, "titleX": 100, "labelFlush": false}}},
  "layer": [
    {"data": {"values": [{"t": 0, "t2": 0.606, "b": -1.06}]}, "mark": {"type": "rule", "color": "#b5b5b5", "strokeDash": [2, 3], "strokeWidth": 1.5},
     "encoding": {"x2": {"field": "t2"}, "y": {"field": "b", "type": "quantitative", "scale": {"domain": [-6.93, 12], "nice": false, "zero": false}, "axis": {"title": "Amplitude in mV", "values": [0, 12], "labelPadding": 9, "titlePadding": 22, "titleY": 139}}}},
    {"mark": {"type": "area", "interpolate": "monotone", "opacity": 0.25, "clip": true},
     "encoding": {"y": {"field": "l", "type": "quantitative", "scale": {"domain": [-6.93, 12], "nice": false, "zero": false}, "axis": {"title": "Amplitude in mV", "values": [0, 12], "labelPadding": 9, "titlePadding": 22, "titleY": 139}}, "y2": {"field": "h"},
       "fill": {"field": "c", "type": "nominal", "scale": {"domain": ["predicted standards", "predicted deviants", "unpredicted standards", "unpredicted deviants"], "range": ["#1a22d0", "#e0161c", "#1c7d1c", "#4fdbe8"]}, "legend": {"title": null, "encode": {"symbols": {"update": {"opacity": {"value": 1}, "fillOpacity": {"value": 1}}}}}}}},
    {"mark": {"type": "line", "interpolate": "monotone", "strokeWidth": 2, "clip": true},
     "encoding": {"y": {"field": "m", "type": "quantitative", "scale": {"domain": [-6.93, 12], "nice": false, "zero": false}, "axis": {"title": "Amplitude in mV", "values": [0, 12], "labelPadding": 9, "titlePadding": 22, "titleY": 139}},
       "stroke": {"field": "c", "type": "nominal", "scale": {"domain": ["predicted standards", "predicted deviants", "unpredicted standards", "unpredicted deviants"], "range": ["#1a22d0", "#e0161c", "#1c7d1c", "#27b0b3"]}, "legend": null}}},
    {"data": {"values": [{"t": 0}]}, "mark": {"type": "rule", "color": "#d42a2a", "strokeDash": [3, 2], "strokeWidth": 1.5}, "encoding": {}}
  ]
},
{
  "width": 238, "height": 213,
  "data": {"values": [
    {"c":"unpredicted deviants","t":-0.094,"m":-3.6,"l":-4.8,"h":-2.4},
    {"c":"unpredicted deviants","t":-0.074,"m":-2.7,"l":-3.9,"h":-1.5},
    {"c":"unpredicted deviants","t":-0.054,"m":0.1,"l":-1.1,"h":1.3},
    {"c":"unpredicted deviants","t":-0.029,"m":1.3,"l":0.1,"h":2.5},
    {"c":"unpredicted deviants","t":-0.01,"m":1.6,"l":0.4,"h":2.8},
    {"c":"unpredicted deviants","t":0.005,"m":0.9,"l":-0.1,"h":1.9},
    {"c":"unpredicted deviants","t":0.03,"m":2.5,"l":1.5,"h":3.5},
    {"c":"unpredicted deviants","t":0.05,"m":4.6,"l":3.4,"h":5.8},
    {"c":"unpredicted deviants","t":0.065,"m":4.9,"l":3.7,"h":6.1},
    {"c":"unpredicted deviants","t":0.08,"m":2.8,"l":1.6,"h":4},
    {"c":"unpredicted deviants","t":0.09,"m":0.4,"l":-0.8,"h":1.6},
    {"c":"unpredicted deviants","t":0.105,"m":3.2,"l":1.9,"h":4.5},
    {"c":"unpredicted deviants","t":0.125,"m":7.2,"l":5.7,"h":8.7},
    {"c":"unpredicted deviants","t":0.15,"m":8.7,"l":7.1,"h":10.3},
    {"c":"unpredicted deviants","t":0.175,"m":8.4,"l":6.8,"h":10},
    {"c":"unpredicted deviants","t":0.195,"m":7.9,"l":6.3,"h":9.5},
    {"c":"unpredicted deviants","t":0.209,"m":8.7,"l":7.1,"h":10.3},
    {"c":"unpredicted deviants","t":0.227,"m":9.9,"l":8.3,"h":11.5},
    {"c":"unpredicted deviants","t":0.239,"m":8.7,"l":7.2,"h":10.2},
    {"c":"unpredicted deviants","t":0.254,"m":6.3,"l":4.9,"h":7.7},
    {"c":"unpredicted deviants","t":0.274,"m":3.9,"l":2.6,"h":5.2},
    {"c":"unpredicted deviants","t":0.294,"m":4.4,"l":3.1,"h":5.7},
    {"c":"unpredicted deviants","t":0.314,"m":3.7,"l":2.4,"h":5},
    {"c":"unpredicted deviants","t":0.334,"m":4.7,"l":3.4,"h":6},
    {"c":"unpredicted deviants","t":0.359,"m":5.6,"l":4.3,"h":6.9},
    {"c":"unpredicted deviants","t":0.379,"m":4.6,"l":3.3,"h":5.9},
    {"c":"unpredicted deviants","t":0.399,"m":3.2,"l":1.8,"h":4.6},
    {"c":"unpredicted deviants","t":0.423,"m":1.8,"l":0.3,"h":3.3},
    {"c":"unpredicted deviants","t":0.448,"m":0.4,"l":-1.1,"h":1.9},
    {"c":"unpredicted deviants","t":0.473,"m":-0.1,"l":-1.5,"h":1.3},
    {"c":"unpredicted deviants","t":0.493,"m":-0.6,"l":-2,"h":0.8},
    {"c":"unpredicted deviants","t":0.508,"m":0.2,"l":-1.2,"h":1.6},
    {"c":"unpredicted deviants","t":0.528,"m":-0.3,"l":-1.7,"h":1.1},
    {"c":"unpredicted deviants","t":0.548,"m":-1.3,"l":-2.6,"h":0},
    {"c":"unpredicted deviants","t":0.563,"m":-2,"l":-3.2,"h":-0.8},
    {"c":"unpredicted deviants","t":0.578,"m":-2.9,"l":-4.1,"h":-1.7},
    {"c":"unpredicted deviants","t":0.593,"m":-2.4,"l":-3.6,"h":-1.2},
    {"c":"unpredicted deviants","t":0.607,"m":-1.8,"l":-3,"h":-0.6},
    {"c":"predicted deviants","t":-0.094,"m":-0.8,"l":-1.7,"h":0.1},
    {"c":"predicted deviants","t":-0.069,"m":-0.8,"l":-1.7,"h":0.1},
    {"c":"predicted deviants","t":-0.049,"m":-1.5,"l":-2.4,"h":-0.6},
    {"c":"predicted deviants","t":-0.029,"m":-0.1,"l":-0.9,"h":0.7},
    {"c":"predicted deviants","t":-0.014,"m":0.2,"l":-0.6,"h":1},
    {"c":"predicted deviants","t":0.005,"m":-0.8,"l":-1.5,"h":-0.1},
    {"c":"predicted deviants","t":0.02,"m":-0.3,"l":-1,"h":0.4},
    {"c":"predicted deviants","t":0.035,"m":1.6,"l":0.7,"h":2.5},
    {"c":"predicted deviants","t":0.055,"m":4.2,"l":3.2,"h":5.2},
    {"c":"predicted deviants","t":0.07,"m":2.5,"l":1.5,"h":3.5},
    {"c":"predicted deviants","t":0.085,"m":0.8,"l":-0.2,"h":1.8},
    {"c":"predicted deviants","t":0.1,"m":3.5,"l":2.5,"h":4.5},
    {"c":"predicted deviants","t":0.12,"m":6,"l":4.9,"h":7.1},
    {"c":"predicted deviants","t":0.14,"m":7.3,"l":6.1,"h":8.5},
    {"c":"predicted deviants","t":0.16,"m":6.3,"l":5.1,"h":7.5},
    {"c":"predicted deviants","t":0.18,"m":4.9,"l":3.8,"h":6},
    {"c":"predicted deviants","t":0.195,"m":6,"l":4.9,"h":7.1},
    {"c":"predicted deviants","t":0.209,"m":6.7,"l":5.6,"h":7.8},
    {"c":"predicted deviants","t":0.229,"m":5.4,"l":4.3,"h":6.5},
    {"c":"predicted deviants","t":0.249,"m":4.9,"l":3.9,"h":5.9},
    {"c":"predicted deviants","t":0.274,"m":5.1,"l":4.1,"h":6.1},
    {"c":"predicted deviants","t":0.299,"m":4.9,"l":3.9,"h":5.9},
    {"c":"predicted deviants","t":0.324,"m":4.6,"l":3.6,"h":5.6},
    {"c":"predicted deviants","t":0.344,"m":5.3,"l":4.2,"h":6.4},
    {"c":"predicted deviants","t":0.364,"m":5.8,"l":4.7,"h":6.9},
    {"c":"predicted deviants","t":0.384,"m":4.6,"l":3.5,"h":5.7},
    {"c":"predicted deviants","t":0.403,"m":2.8,"l":1.8,"h":3.8},
    {"c":"predicted deviants","t":0.418,"m":1.1,"l":0.1,"h":2.1},
    {"c":"predicted deviants","t":0.438,"m":0.1,"l":-0.8,"h":1},
    {"c":"predicted deviants","t":0.463,"m":0.1,"l":-0.8,"h":1},
    {"c":"predicted deviants","t":0.483,"m":0.4,"l":-0.5,"h":1.3},
    {"c":"predicted deviants","t":0.503,"m":-0.5,"l":-1.4,"h":0.4},
    {"c":"predicted deviants","t":0.523,"m":0.4,"l":-0.5,"h":1.3},
    {"c":"predicted deviants","t":0.538,"m":1.5,"l":0.6,"h":2.4},
    {"c":"predicted deviants","t":0.558,"m":0.9,"l":0,"h":1.8},
    {"c":"predicted deviants","t":0.578,"m":1.1,"l":0.2,"h":2},
    {"c":"predicted deviants","t":0.607,"m":2,"l":1.1,"h":2.9},
    {"c":"predicted standards","t":-0.099,"m":-1.7,"l":-2.4,"h":-1},
    {"c":"predicted standards","t":-0.069,"m":-1,"l":-1.7,"h":-0.3},
    {"c":"predicted standards","t":-0.039,"m":-0.3,"l":-1,"h":0.4},
    {"c":"predicted standards","t":-0.014,"m":0.6,"l":-0.1,"h":1.3},
    {"c":"predicted standards","t":0.01,"m":1.5,"l":0.8,"h":2.2},
    {"c":"predicted standards","t":0.03,"m":3,"l":2.3,"h":3.7},
    {"c":"predicted standards","t":0.05,"m":5.3,"l":4.4,"h":6.2},
    {"c":"predicted standards","t":0.06,"m":5.6,"l":4.7,"h":6.5},
    {"c":"predicted standards","t":0.075,"m":3.2,"l":2.3,"h":4.1},
    {"c":"predicted standards","t":0.088,"m":0.6,"l":-0.3,"h":1.5},
    {"c":"predicted standards","t":0.1,"m":2.5,"l":1.6,"h":3.4},
    {"c":"predicted standards","t":0.115,"m":5.3,"l":4.4,"h":6.2},
    {"c":"predicted standards","t":0.135,"m":6.5,"l":5.6,"h":7.4},
    {"c":"predicted standards","t":0.155,"m":5.4,"l":4.6,"h":6.2},
    {"c":"predicted standards","t":0.175,"m":4.4,"l":3.6,"h":5.2},
    {"c":"predicted standards","t":0.195,"m":3.9,"l":3.1,"h":4.7},
    {"c":"predicted standards","t":0.209,"m":2.8,"l":2,"h":3.6},
    {"c":"predicted standards","t":0.224,"m":2.1,"l":1.3,"h":2.9},
    {"c":"predicted standards","t":0.239,"m":2.7,"l":1.9,"h":3.5},
    {"c":"predicted standards","t":0.254,"m":3.4,"l":2.6,"h":4.2},
    {"c":"predicted standards","t":0.274,"m":2.8,"l":2,"h":3.6},
    {"c":"predicted standards","t":0.299,"m":2.3,"l":1.5,"h":3.1},
    {"c":"predicted standards","t":0.324,"m":1.8,"l":1,"h":2.6},
    {"c":"predicted standards","t":0.344,"m":0.8,"l":0,"h":1.6},
    {"c":"predicted standards","t":0.369,"m":0.4,"l":-0.4,"h":1.2},
    {"c":"predicted standards","t":0.389,"m":-0.5,"l":-1.3,"h":0.3},
    {"c":"predicted standards","t":0.408,"m":-0.8,"l":-1.6,"h":0},
    {"c":"predicted standards","t":0.433,"m":-1.1,"l":-1.9,"h":-0.3},
    {"c":"predicted standards","t":0.458,"m":-0.8,"l":-1.6,"h":0},
    {"c":"predicted standards","t":0.478,"m":-1.1,"l":-1.9,"h":-0.3},
    {"c":"predicted standards","t":0.503,"m":-2.2,"l":-3,"h":-1.4},
    {"c":"predicted standards","t":0.528,"m":-2.4,"l":-3.2,"h":-1.6},
    {"c":"predicted standards","t":0.553,"m":-2,"l":-2.8,"h":-1.2},
    {"c":"predicted standards","t":0.578,"m":-1.3,"l":-2.1,"h":-0.5},
    {"c":"predicted standards","t":0.607,"m":-0.5,"l":-1.3,"h":0.3},
    {"c":"unpredicted standards","t":-0.094,"m":-0.8,"l":-1.5,"h":-0.1},
    {"c":"unpredicted standards","t":-0.069,"m":-0.5,"l":-1.2,"h":0.2},
    {"c":"unpredicted standards","t":-0.039,"m":-0.3,"l":-1,"h":0.4},
    {"c":"unpredicted standards","t":-0.01,"m":0.1,"l":-0.6,"h":0.8},
    {"c":"unpredicted standards","t":0.01,"m":0.4,"l":-0.3,"h":1.1},
    {"c":"unpredicted standards","t":0.035,"m":1.8,"l":1,"h":2.6},
    {"c":"unpredicted standards","t":0.055,"m":4.2,"l":3.3,"h":5.1},
    {"c":"unpredicted standards","t":0.065,"m":3.5,"l":2.6,"h":4.4},
    {"c":"unpredicted standards","t":0.08,"m":0.1,"l":-0.8,"h":1},
    {"c":"unpredicted standards","t":0.092,"m":-2.2,"l":-3.1,"h":-1.3},
    {"c":"unpredicted standards","t":0.105,"m":1.1,"l":0.2,"h":2},
    {"c":"unpredicted standards","t":0.12,"m":3.9,"l":3,"h":4.8},
    {"c":"unpredicted standards","t":0.14,"m":5.1,"l":4.2,"h":6},
    {"c":"unpredicted standards","t":0.16,"m":4.7,"l":3.8,"h":5.6},
    {"c":"unpredicted standards","t":0.185,"m":4.2,"l":3.3,"h":5.1},
    {"c":"unpredicted standards","t":0.204,"m":3.7,"l":2.8,"h":4.6},
    {"c":"unpredicted standards","t":0.224,"m":3.5,"l":2.6,"h":4.4},
    {"c":"unpredicted standards","t":0.244,"m":2.8,"l":1.9,"h":3.7},
    {"c":"unpredicted standards","t":0.264,"m":1.6,"l":0.7,"h":2.5},
    {"c":"unpredicted standards","t":0.284,"m":1.1,"l":0.2,"h":2},
    {"c":"unpredicted standards","t":0.309,"m":0.4,"l":-0.5,"h":1.3},
    {"c":"unpredicted standards","t":0.329,"m":-0.8,"l":-1.7,"h":0.1},
    {"c":"unpredicted standards","t":0.354,"m":-0.1,"l":-1,"h":0.8},
    {"c":"unpredicted standards","t":0.374,"m":-1,"l":-1.9,"h":-0.1},
    {"c":"unpredicted standards","t":0.394,"m":-1.7,"l":-2.6,"h":-0.8},
    {"c":"unpredicted standards","t":0.418,"m":-2,"l":-2.9,"h":-1.1},
    {"c":"unpredicted standards","t":0.438,"m":-2.7,"l":-3.6,"h":-1.8},
    {"c":"unpredicted standards","t":0.458,"m":-2.4,"l":-3.3,"h":-1.5},
    {"c":"unpredicted standards","t":0.478,"m":-2.9,"l":-3.8,"h":-2},
    {"c":"unpredicted standards","t":0.498,"m":-3,"l":-3.9,"h":-2.1},
    {"c":"unpredicted standards","t":0.518,"m":-2.7,"l":-3.6,"h":-1.8},
    {"c":"unpredicted standards","t":0.538,"m":-1.7,"l":-2.6,"h":-0.8},
    {"c":"unpredicted standards","t":0.558,"m":-0.6,"l":-1.5,"h":0.3},
    {"c":"unpredicted standards","t":0.583,"m":0.4,"l":-0.5,"h":1.3},
    {"c":"unpredicted standards","t":0.607,"m":0.8,"l":-0.1,"h":1.7}
  ]},
  "encoding": {"x": {"field": "t", "type": "quantitative", "scale": {"domain": [-0.1, 0.61], "nice": false, "zero": false}, "axis": {"title": "Time in sec", "values": [-0.1, 0, 0.1, 0.2, 0.3, 0.4, 0.5, 0.6], "labelExpr": "datum.value == 0 ? '0' : replace(replace(format(datum.value, '.2~f'), '0.', '.'), '\u2212', '-')", "labelPadding": 26, "titlePadding": 12, "titleX": 104, "labelFlush": false}}},
  "layer": [
    {"data": {"values": [{"t": 0, "t2": 0.61, "b": -1.04}]}, "mark": {"type": "rule", "color": "#b5b5b5", "strokeDash": [2, 3], "strokeWidth": 1.5},
     "encoding": {"x2": {"field": "t2"}, "y": {"field": "b", "type": "quantitative", "scale": {"domain": [-8.09, 14], "nice": false, "zero": false}, "axis": {"title": null, "values": [0, 14], "labelPadding": 11}}}},
    {"mark": {"type": "area", "interpolate": "monotone", "opacity": 0.25, "clip": true},
     "encoding": {"y": {"field": "l", "type": "quantitative", "scale": {"domain": [-8.09, 14], "nice": false, "zero": false}, "axis": {"title": null, "values": [0, 14], "labelPadding": 11}}, "y2": {"field": "h"},
       "fill": {"field": "c", "type": "nominal", "scale": {"domain": ["predicted standards", "predicted deviants", "unpredicted standards", "unpredicted deviants"], "range": ["#1a22d0", "#e0161c", "#1c7d1c", "#4fdbe8"]}, "legend": {"title": null, "encode": {"symbols": {"update": {"opacity": {"value": 1}, "fillOpacity": {"value": 1}}}}}}}},
    {"mark": {"type": "line", "interpolate": "monotone", "strokeWidth": 2, "clip": true},
     "encoding": {"y": {"field": "m", "type": "quantitative", "scale": {"domain": [-8.09, 14], "nice": false, "zero": false}, "axis": {"title": null, "values": [0, 14], "labelPadding": 11}},
       "stroke": {"field": "c", "type": "nominal", "scale": {"domain": ["predicted standards", "predicted deviants", "unpredicted standards", "unpredicted deviants"], "range": ["#1a22d0", "#e0161c", "#1c7d1c", "#27b0b3"]}, "legend": null}}},
    {"data": {"values": [{"t": 0}]}, "mark": {"type": "rule", "color": "#d42a2a", "strokeDash": [3, 2], "strokeWidth": 1.5}, "encoding": {}}
  ]
}
]
}
